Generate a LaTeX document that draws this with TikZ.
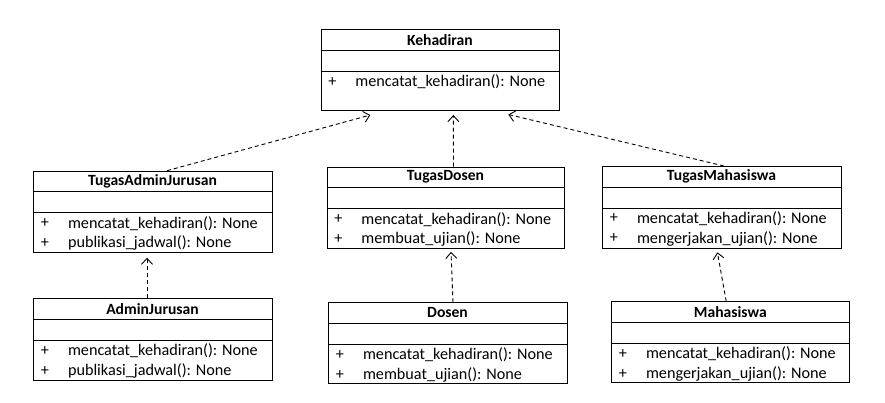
\documentclass[tikz,border=0pt]{standalone}
\usepackage{fontspec}
\setmainfont{Carlito}
\usetikzlibrary{arrows.meta}
\tikzset{
  classbox/.style={draw, line width=1pt, inner sep=0pt, anchor=north west},
  divider/.style={line width=1pt},
  ctitle/.style={font=\fontsize{15.6}{17}\selectfont\bfseries, inner sep=0pt, anchor=center},
  cmeth/.style={font=\fontsize{16.2}{18}\selectfont, inner sep=0pt, anchor=west},
  cplus/.style={font=\fontsize{16.2}{18}\selectfont, inner sep=0pt, anchor=center},
  dep/.style={line width=0.9pt, dash pattern=on 4pt off 3pt, -{Straight Barb[length=6pt,width=11pt,line width=0.9pt]}}
}
% #1 name, #2 left, #3 top, #4 right, #5 bottom, #6 title, #7 method1, #8 method2
\newcommand{\umlbox}[8]{%
  \node[classbox, minimum width={(#4-#2)*1pt}, minimum height={(#5-#3)*1pt}] (#1) at (#2,#3) {};
  \draw[divider] (#2,{#3+21}) -- (#4,{#3+21});
  \draw[divider] (#2,{#3+42}) -- (#4,{#3+42});
  \node[ctitle] at ({(#2+#4)/2},{#3+10.5}) {#6};
  \node[cplus] at ({#2+11.7},{#3+52.5}) {+};
  \node[cmeth] at ({#2+34.5},{#3+52.5}) {#7};
  \if\relax\detokenize{#8}\relax\else
    \node[cplus] at ({#2+11.7},{#3+72.5}) {+};
    \node[cmeth] at ({#2+34.5},{#3+72.5}) {#8};
  \fi
}
\begin{document}
\begin{tikzpicture}[x=1pt,y=-1pt]
\useasboundingbox (0,0) rectangle (885,402);
\umlbox{K}{320.7}{29.3}{559}{110}{Kehadiran}{mencatat\_kehadiran(): None}{}
\umlbox{TA}{33.3}{170.7}{271.7}{251.7}{TugasAdminJurusan}{mencatat\_kehadiran(): None}{publikasi\_jadwal(): None}
\umlbox{TD}{326.7}{166.7}{564.3}{248.3}{TugasDosen}{mencatat\_kehadiran(): None}{membuat\_ujian(): None}
\umlbox{TM}{602.3}{166}{840.7}{248.3}{TugasMahasiswa}{mencatat\_kehadiran(): None}{mengerjakan\_ujian(): None}
\umlbox{AJ}{33.3}{298.3}{271.7}{380}{AdminJurusan}{mencatat\_kehadiran(): None}{publikasi\_jadwal(): None}
\umlbox{D}{328.3}{302.3}{566.7}{383.3}{Dosen}{mencatat\_kehadiran(): None}{membuat\_ujian(): None}
\umlbox{M}{611.3}{301.3}{849.3}{382.3}{Mahasiswa}{mencatat\_kehadiran(): None}{mengerjakan\_ujian(): None}
% dependencies
\draw[dep] ([xshift=14pt]TA.north) -- ([shift={(-70pt,-4pt)}]K.south);
\draw[dep] ([xshift=7.5pt]TD.north) -- ([shift={(13pt,-4pt)}]K.south);
\draw[dep] ([xshift=2pt]TM.north) -- ([shift={(68pt,-3.5pt)}]K.south);
\draw[dep] ([xshift=-6pt]AJ.north) -- ([xshift=-6pt,yshift=-5pt]TA.south);
\draw[dep] ([xshift=5pt]D.north) -- ([xshift=5pt,yshift=-2.5pt]TD.south);
\draw[dep] ([xshift=-4.6pt]M.north) -- ([xshift=-4.6pt,yshift=-3pt]TM.south);
\end{tikzpicture}
\end{document}
